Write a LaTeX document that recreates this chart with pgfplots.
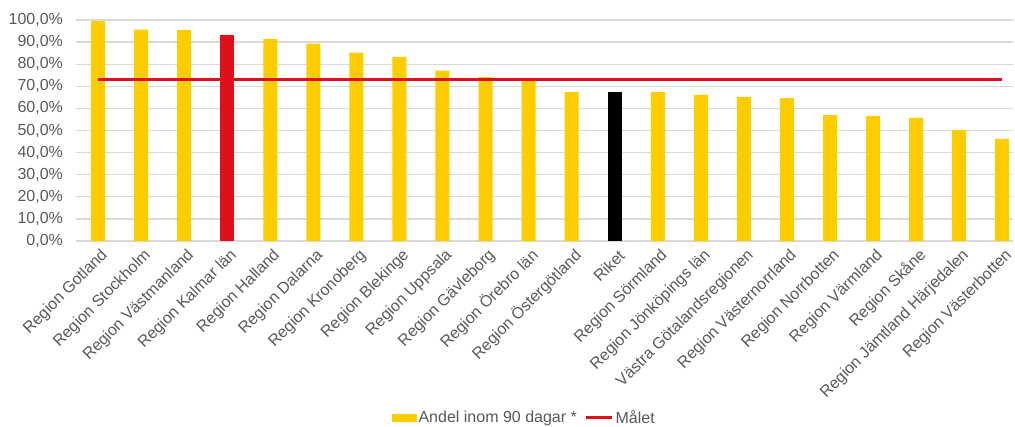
\documentclass[border=0pt]{standalone}
\usepackage{fontspec}
\setmainfont{Liberation Sans}
\usepackage{pgfplots}
\pgfplotsset{compat=1.18}
\definecolor{ybarc}{RGB}{255,204,0}
\definecolor{rbarc}{RGB}{224,16,26}
\definecolor{txtc}{RGB}{89,89,89}
\definecolor{gridc}{RGB}{217,217,217}
\begin{document}
\fontsize{16}{19}\selectfont
\begin{tikzpicture}
\begin{axis}[
  at={(0pt,0pt)}, anchor=south west,
  scale only axis, width=936.5pt, height=221pt,
  xmin=-0.5, xmax=21.25, ymin=0, ymax=100,
  /pgf/number format/assume math mode=true,
  ytick={0,10,...,100},
  yticklabel={\pgfmathprintnumber[fixed,fixed zerofill,precision=1,use comma]{\tick}\%},
  y tick label style={text=txtc, font=\fontsize{16}{19}\selectfont, xshift=-8pt},
  xtick={0,...,21},
  xticklabels={Region Gotland,Region Stockholm,Region Västmanland,Region Kalmar län,Region Halland,Region Dalarna,Region Kronoberg,Region Blekinge,Region Uppsala,Region Gävleborg,Region Örebro län,Region Östergötland,Riket,Region Sörmland,Region Jönköpings län,Västra Götalandsregionen,Region Västernorrland,Region Norrbotten,Region Värmland,Region Skåne,Region Jämtland Härjedalen,Region Västerbotten},
  x tick label style={xshift=11pt, yshift=-8pt, rotate=45, anchor=east, text=txtc, font=\fontsize{16}{19}\selectfont},
  major tick length=0pt,
  ymajorgrids, grid style={gridc, line width=1.3pt},
  axis x line*=bottom, axis y line*=left,
  y axis line style={draw=none},
  x axis line style={gridc, line width=1.3pt},
  legend columns=2,
  legend style={at={(0.478,-0.80)}, anchor=center, draw=none, fill=none,
    font=\fontsize{16}{19}\selectfont, text=txtc,
    /tikz/every even column/.append style={column sep=6pt}},
]
\addplot[ybar, bar width=14pt, bar shift=0pt, fill=ybarc, draw=none,
  legend image code/.code={\fill[ybarc] (0pt,-4pt) rectangle (25pt,4pt);}]
  coordinates {(0,99.5) (1,95.6) (2,95.5) (4,91.3) (5,89.3) (6,85.2) (7,83.3) (8,77.1) (9,74.2) (10,72.3) (11,67.4) (13,67.4) (14,66.1) (15,65.2) (16,64.7) (17,57.0) (18,56.6) (19,55.7) (20,50.2) (21,46.2)};
\addlegendentry{Andel inom 90 dagar *}
\addplot[ybar, bar width=14pt, bar shift=0pt, fill=rbarc, draw=none, forget plot]
  coordinates {(3,93.4)};
\addplot[ybar, bar width=14pt, bar shift=0pt, fill=black, draw=none, forget plot]
  coordinates {(12,67.4)};
\addplot[sharp plot, rbarc, line width=2.7pt, mark=none,
  legend image code/.code={\draw[rbarc, line width=2.7pt] (0pt,0pt) -- (26pt,0pt);}]
  coordinates {(0,73) (21,73)};
\addlegendentry{Målet}
\end{axis}
\pgfresetboundingbox
\useasboundingbox (-76.5pt,-185pt) rectangle (938.5pt,241pt);
\end{tikzpicture}
\end{document}
